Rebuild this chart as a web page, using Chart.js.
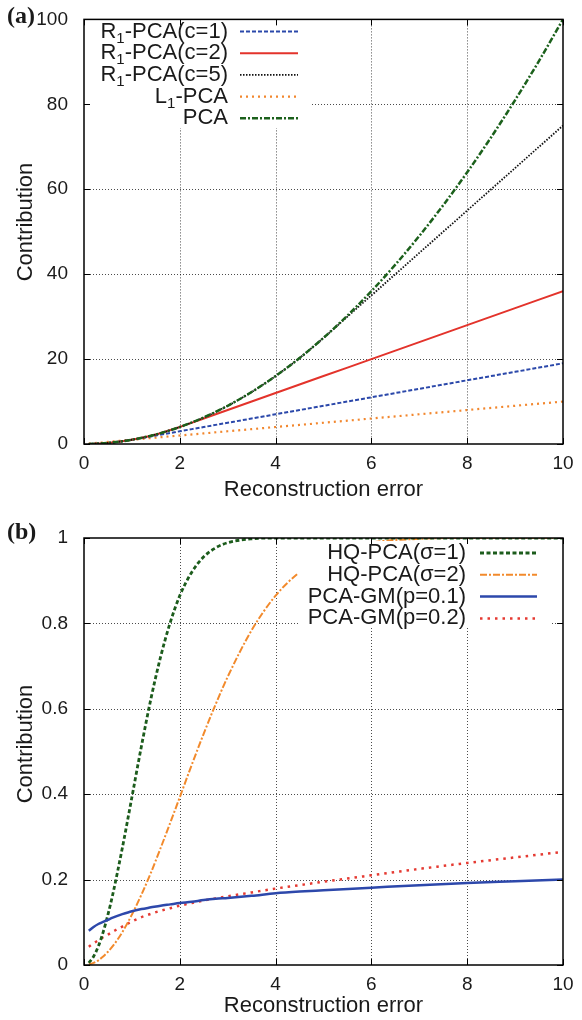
<!DOCTYPE html>
<html><head><meta charset="utf-8">
<script src="https://cdn.jsdelivr.net/npm/chart.js@4.4.1/dist/chart.umd.min.js"></script>
<style>html,body{margin:0;padding:0;background:#fff;width:582px;height:1020px;overflow:hidden;} canvas{position:absolute;left:0;}</style>
</head><body>
<canvas id="c1" width="582" height="510" style="top:0px"></canvas>
<canvas id="c2" width="582" height="510" style="top:510px"></canvas>
<script>
// ---------- data ----------
const xTicks = [0, 2, 4, 6, 8, 10];
const topYTicks = [0, 20, 40, 60, 80, 100];
const botYTicks = [0, 0.2, 0.4, 0.6, 0.8, 1];
const botYTickLabels = ['0', '0.2', '0.4', '0.6', '0.8', '1'];

// panel (a)
const errA = [0.1, 0.5, 1, 1.5, 2, 2.5, 3, 3.5, 4, 4.5, 5, 5.5, 6, 6.5, 7, 7.5, 8, 8.5, 9, 9.5, 10];
const r1c1 = [0.01, 0.25, 1, 2, 3, 4, 5, 6, 7, 8, 9, 10, 11, 12, 13, 14, 15, 16, 17, 18, 19];
const r1c2 = [0.01, 0.25, 1, 2.25, 4, 6, 8, 10, 12, 14, 16, 18, 20, 22, 24, 26, 28, 30, 32, 34, 36];
const r1c5 = [0.01, 0.25, 1, 2.25, 4, 6.25, 9, 12.25, 16, 20.25, 25, 30, 35, 40, 45, 50, 55, 60, 65, 70, 75];
const l1pca = [0.1, 0.5, 1, 1.5, 2, 2.5, 3, 3.5, 4, 4.5, 5, 5.5, 6, 6.5, 7, 7.5, 8, 8.5, 9, 9.5, 10];
const pca = [0.01, 0.25, 1, 2.25, 4, 6.25, 9, 12.25, 16, 20.25, 25, 30.25, 36, 42.25, 49, 56.25, 64, 72.25, 81, 90.25, 100];
const labelsA = ['R\u2081-PCA(c=1)', 'R\u2081-PCA(c=2)', 'R\u2081-PCA(c=5)', 'L\u2081-PCA', 'PCA'];

// panel (b)
const errB = [0.1, 0.2, 0.3, 0.4, 0.5, 0.6, 0.8, 1, 1.2, 1.4, 1.6, 1.8, 2, 2.25, 2.5, 2.75, 3, 3.5, 4, 4.5, 5, 6, 7, 8, 9, 10];
const hq1 = [0.005, 0.02, 0.044, 0.077, 0.118, 0.165, 0.274, 0.393, 0.513, 0.625, 0.722, 0.802, 0.865, 0.92, 0.956, 0.977, 0.989, 0.998, 1, 1, 1, 1, 1, 1, 1, 1];
const hq2 = [0.001, 0.005, 0.011, 0.02, 0.031, 0.044, 0.077, 0.118, 0.165, 0.217, 0.274, 0.333, 0.393, 0.469, 0.542, 0.611, 0.675, 0.784, 0.865, 0.92, 0.956, 0.989, 0.998, 1, 1, 1];
const gm01 = [0.080, 0.089, 0.096, 0.101, 0.106, 0.111, 0.119, 0.126, 0.131, 0.135, 0.139, 0.142, 0.145, 0.148, 0.152, 0.155, 0.157, 0.162, 0.168, 0.172, 0.175, 0.181, 0.187, 0.192, 0.196, 0.2];
const gm02 = [0.043, 0.051, 0.058, 0.065, 0.071, 0.078, 0.09, 0.102, 0.112, 0.12, 0.127, 0.133, 0.139, 0.145, 0.151, 0.156, 0.161, 0.17, 0.179, 0.187, 0.195, 0.21, 0.225, 0.239, 0.252, 0.265];
const labelsB = ['HQ-PCA(\u03c3=1)', 'HQ-PCA(\u03c3=2)', 'PCA-GM(p=0.1)', 'PCA-GM(p=0.2)'];

const xTitle = 'Reconstruction error';
const yTitle = 'Contribution';

// ---------- helpers ----------
const FONT = "'Liberation Sans', Arial, Helvetica, sans-serif";
Chart.defaults.font.family = FONT;
Chart.defaults.color = '#1a1a1a';

const pts = (xs, ys) => xs.map((x, i) => ({x: x, y: ys[i]}));

function drawLabel(ctx, text, right, y) {
  const parts = text.split('\u2081');
  const main = '22px ' + FONT, sub = '15px ' + FONT;
  let total = 0;
  const segs = [];
  parts.forEach((p, i) => {
    ctx.font = main; segs.push({t: p, f: main, dy: 0, w: ctx.measureText(p).width});
    if (i < parts.length - 1) { ctx.font = sub; segs.push({t: '1', f: sub, dy: 7, w: ctx.measureText('1').width}); }
  });
  segs.forEach(s => total += s.w);
  let x = right - total;
  ctx.textAlign = 'left'; ctx.textBaseline = 'middle'; ctx.fillStyle = '#1a1a1a';
  segs.forEach(s => { ctx.font = s.f; ctx.fillText(s.t, x, y + s.dy); x += s.w; });
}

const gridPlugin = {
  id: 'dotGrid',
  beforeDatasetsDraw(chart) {
    const ctx = chart.ctx, a = chart.chartArea, xs = chart.scales.x, ys = chart.scales.y;
    ctx.save();
    ctx.strokeStyle = 'rgba(0,0,0,0.7)'; ctx.lineWidth = 1; ctx.setLineDash([1, 2]);
    xs.ticks.forEach(t => {
      const px = Math.round(xs.getPixelForValue(t.value)) + 0.5;
      if (px < a.left + 2 || px > a.right - 2) return;
      ctx.beginPath(); ctx.moveTo(px, a.top); ctx.lineTo(px, a.bottom); ctx.stroke();
    });
    ys.ticks.forEach(t => {
      const py = Math.round(ys.getPixelForValue(t.value)) + 0.5;
      if (py < a.top + 2 || py > a.bottom - 2) return;
      ctx.beginPath(); ctx.moveTo(a.left, py); ctx.lineTo(a.right, py); ctx.stroke();
    });
    ctx.restore();
  }
};

function decoPlugin(cfg) {
  return {
    id: 'deco',
    afterDatasetsDraw(chart) {
      const ctx = chart.ctx, a = chart.chartArea;
      ctx.save();
      // legend (opaque key)
      ctx.fillStyle = '#fff';
      ctx.fillRect(cfg.box[0], cfg.box[1], cfg.box[2] - cfg.box[0], cfg.box[3] - cfg.box[1]);
      chart.data.datasets.forEach((ds, i) => {
        const y = cfg.row0 + i * cfg.rowGap;
        drawLabel(ctx, ds.label, cfg.textRight, y);
        ctx.beginPath();
        ctx.strokeStyle = ds.borderColor; ctx.lineWidth = ds.borderWidth;
        ctx.setLineDash(ds.borderDash || []);
        ctx.moveTo(cfg.s0, y); ctx.lineTo(cfg.s1, y); ctx.stroke();
      });
      ctx.setLineDash([]);
      // frame
      ctx.strokeStyle = '#000'; ctx.lineWidth = 1.5;
      ctx.strokeRect(a.left, a.top, a.right - a.left, a.bottom - a.top);
      // inward ticks on all four sides
      ctx.lineWidth = 1;
      const xs = chart.scales.x, ys = chart.scales.y;
      xs.ticks.forEach(t => {
        const px = Math.round(xs.getPixelForValue(t.value)) + 0.5;
        ctx.beginPath(); ctx.moveTo(px, a.bottom); ctx.lineTo(px, a.bottom - 6);
        ctx.moveTo(px, a.top); ctx.lineTo(px, a.top + 6); ctx.stroke();
      });
      ys.ticks.forEach(t => {
        const py = Math.round(ys.getPixelForValue(t.value)) + 0.5;
        ctx.beginPath(); ctx.moveTo(a.left, py); ctx.lineTo(a.left + 6, py);
        ctx.moveTo(a.right, py); ctx.lineTo(a.right - 6, py); ctx.stroke();
      });
      // axis titles
      ctx.fillStyle = '#1a1a1a';
      ctx.font = '22px ' + FONT; ctx.textAlign = 'center'; ctx.textBaseline = 'middle';
      ctx.fillText(xTitle, (a.left + a.right) / 2, cfg.xTitleY);
      ctx.save(); ctx.translate(cfg.yTitleX, cfg.yTitleY); ctx.rotate(-Math.PI / 2);
      ctx.fillText(yTitle, 0, 0); ctx.restore();
      // panel label
      ctx.font = 'bold 24px "Liberation Serif", "Times New Roman", serif';
      ctx.textAlign = 'left';
      ctx.fillText(cfg.panel, 7, cfg.panelY);
      ctx.restore();
    }
  };
}

function makeOptions(yTicks, yLabelFn, yMax, padTop, xHeight) {
  return {
    responsive: false, animation: false, devicePixelRatio: 1,
    layout: {padding: {top: padTop, right: 19, left: 0, bottom: 0}},
    plugins: {legend: {display: false}, tooltip: {enabled: false}},
    elements: {point: {radius: 0}, line: {cubicInterpolationMode: 'monotone'}},
    scales: {
      x: {
        type: 'linear', min: 0, max: 10,
        afterBuildTicks: s => { s.ticks = xTicks.map(v => ({value: v})); },
        afterFit: s => { s.height = xHeight; },
        ticks: {font: {size: 19}, padding: 0, maxRotation: 0, color: '#1a1a1a', callback: v => String(v)},
        grid: {display: false},
        border: {display: false}
      },
      y: {
        type: 'linear', min: 0, max: yMax,
        afterBuildTicks: s => { s.ticks = yTicks.map(v => ({value: v})); },
        afterFit: s => { s.width = 84; },
        ticks: {font: {size: 19}, padding: 8, color: '#1a1a1a', callback: yLabelFn},
        grid: {display: false},
        border: {display: false}
      }
    }
  };
}

// ---------- chart (a) ----------
new Chart(document.getElementById('c1'), {
  type: 'line',
  data: {datasets: [
    {label: labelsA[0], data: pts(errA, r1c1), borderColor: '#2b48aa', borderWidth: 2, borderDash: [4, 2], order: 4},
    {label: labelsA[1], data: pts(errA, r1c2), borderColor: '#e3332b', borderWidth: 2, order: 3},
    {label: labelsA[2], data: pts(errA, r1c5), borderColor: '#111111', borderWidth: 1.8, borderDash: [1.5, 1.5], order: 2},
    {label: labelsA[3], data: pts(errA, l1pca), borderColor: '#f2872e', borderWidth: 2.2, borderDash: [2, 4], order: 5},
    {label: labelsA[4], data: pts(errA, pca), borderColor: '#1c611c', borderWidth: 2.5, borderDash: [6, 2, 2, 2], order: 1}
  ]},
  options: makeOptions(topYTicks, v => String(v), 100, 15, 66),
  plugins: [gridPlugin, decoPlugin({box: [86, 17, 310, 128], row0: 31.5, rowGap: 21.7, textRight: 228, s0: 240, s1: 298,
                  xTitleY: 490, yTitleX: 26, yTitleY: 222, panel: '(a)', panelY: 17})]
});

// ---------- chart (b) ----------
new Chart(document.getElementById('c2'), {
  type: 'line',
  data: {datasets: [
    {label: labelsB[0], data: pts(errB, hq1), borderColor: '#1c5c1c', borderWidth: 2.8, borderDash: [4, 2.5], order: 2},
    {label: labelsB[1], data: pts(errB, hq2), borderColor: '#f28a2c', borderWidth: 2, borderDash: [7, 2, 2, 2], order: 3},
    {label: labelsB[2], data: pts(errB, gm01), borderColor: '#2d48ab', borderWidth: 2.5, order: 1},
    {label: labelsB[3], data: pts(errB, gm02), borderColor: '#e53a32', borderWidth: 2.5, borderDash: [2.5, 5], order: 4}
  ]},
  options: makeOptions(botYTicks, (v, i) => botYTickLabels[i], 1, 28, 55),
  plugins: [gridPlugin, decoPlugin({box: [298, 31, 551, 117], row0: 43, rowGap: 21.8,
                  textRight: 466, s0: 480, s1: 537,
                  xTitleY: 496, yTitleX: 26, yTitleY: 234, panel: '(b)', panelY: 23})]
});
</script>
</body></html>
